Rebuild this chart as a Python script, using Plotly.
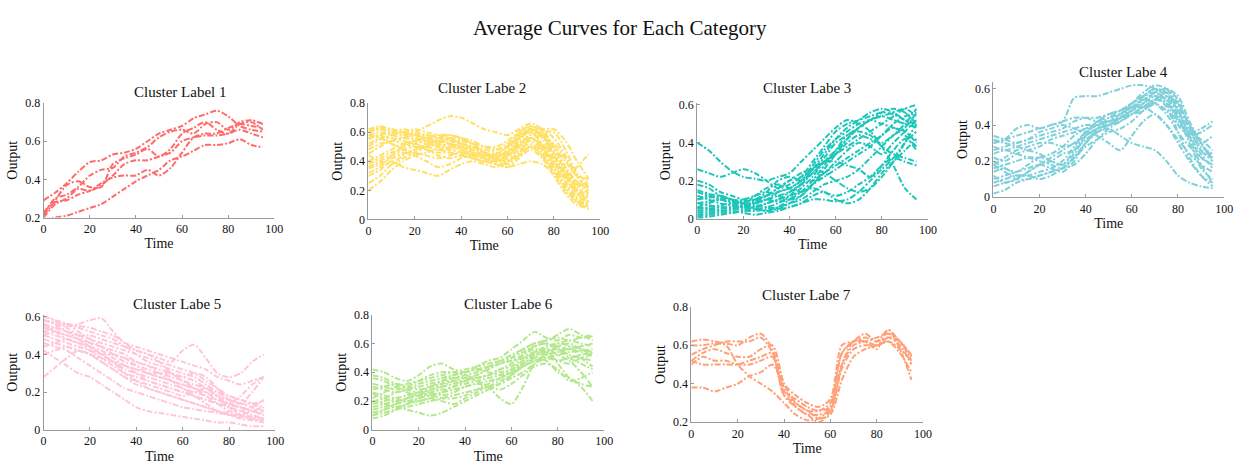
import plotly.graph_objects as go

W, H = 1248, 470
time = [0, 5, 10, 15, 20, 25, 30, 35, 40, 45, 50, 55, 60, 65, 70, 75, 80, 85, 90, 95]

cluster1 = [
    [0.29,0.33,0.38,0.44,0.49,0.50,0.53,0.54,0.56,0.60,0.64,0.66,0.68,0.72,0.74,0.76,0.73,0.68,0.66,0.65],
    [0.22,0.30,0.32,0.36,0.42,0.45,0.46,0.52,0.54,0.57,0.62,0.65,0.66,0.64,0.69,0.70,0.66,0.70,0.71,0.69],
    [0.20,0.27,0.30,0.35,0.34,0.37,0.42,0.48,0.50,0.50,0.52,0.54,0.60,0.62,0.63,0.63,0.64,0.66,0.64,0.62],
    [0.19,0.20,0.21,0.23,0.25,0.27,0.31,0.35,0.39,0.42,0.45,0.50,0.52,0.55,0.58,0.58,0.59,0.61,0.58,0.57],
    [0.23,0.28,0.29,0.32,0.34,0.38,0.41,0.42,0.42,0.45,0.42,0.46,0.54,0.62,0.64,0.64,0.67,0.69,0.68,0.67],
    [0.21,0.29,0.37,0.39,0.36,0.36,0.48,0.51,0.53,0.56,0.52,0.56,0.64,0.67,0.70,0.66,0.64,0.69,0.70,0.66],
]
cluster2 = [
    [0.60,0.62,0.60,0.58,0.60,0.64,0.68,0.71,0.70,0.66,0.62,0.60,0.58,0.62,0.66,0.62,0.50,0.40,0.30,0.28],
    [0.20,0.26,0.34,0.40,0.44,0.46,0.48,0.46,0.44,0.42,0.40,0.38,0.36,0.38,0.40,0.38,0.32,0.30,0.36,0.45],
    [0.58,0.60,0.58,0.56,0.55,0.54,0.53,0.55,0.52,0.50,0.46,0.45,0.50,0.60,0.64,0.60,0.50,0.36,0.24,0.18],
    [0.50,0.55,0.58,0.60,0.58,0.56,0.52,0.48,0.46,0.42,0.40,0.42,0.48,0.58,0.62,0.56,0.42,0.30,0.20,0.15],
    [0.35,0.38,0.42,0.45,0.48,0.50,0.52,0.50,0.48,0.45,0.44,0.45,0.50,0.56,0.60,0.52,0.40,0.28,0.18,0.12],
    [0.30,0.34,0.40,0.36,0.34,0.32,0.30,0.34,0.38,0.40,0.38,0.36,0.40,0.46,0.50,0.44,0.34,0.22,0.14,0.10],
    [0.62,0.62,0.60,0.58,0.56,0.55,0.56,0.58,0.56,0.54,0.50,0.48,0.52,0.58,0.62,0.58,0.46,0.34,0.22,0.16],
    [0.45,0.50,0.54,0.52,0.50,0.48,0.46,0.46,0.44,0.42,0.40,0.40,0.44,0.50,0.54,0.48,0.36,0.24,0.14,0.08],
    [0.55,0.58,0.52,0.50,0.52,0.54,0.50,0.48,0.50,0.48,0.46,0.44,0.46,0.52,0.58,0.60,0.60,0.48,0.32,0.25],
    [0.40,0.44,0.48,0.52,0.54,0.52,0.50,0.52,0.50,0.46,0.42,0.40,0.42,0.48,0.52,0.46,0.36,0.22,0.12,0.07],
    [0.25,0.30,0.38,0.44,0.48,0.52,0.54,0.52,0.48,0.44,0.42,0.40,0.46,0.54,0.62,0.58,0.48,0.36,0.26,0.20],
    [0.52,0.56,0.56,0.54,0.52,0.50,0.48,0.50,0.52,0.50,0.48,0.46,0.44,0.50,0.56,0.52,0.44,0.32,0.20,0.13],
    [0.48,0.52,0.54,0.56,0.58,0.58,0.56,0.54,0.52,0.50,0.46,0.42,0.44,0.52,0.58,0.56,0.52,0.42,0.30,0.22],
    [0.60,0.63,0.62,0.60,0.58,0.56,0.54,0.52,0.50,0.46,0.44,0.43,0.46,0.56,0.62,0.58,0.44,0.30,0.18,0.10],
    [0.38,0.42,0.46,0.48,0.50,0.48,0.44,0.42,0.44,0.46,0.44,0.40,0.38,0.44,0.50,0.44,0.32,0.20,0.12,0.09],
    [0.56,0.58,0.60,0.62,0.60,0.58,0.56,0.54,0.54,0.52,0.50,0.50,0.54,0.60,0.64,0.62,0.56,0.44,0.30,0.18],
    [0.62,0.64,0.62,0.60,0.62,0.60,0.58,0.56,0.55,0.52,0.50,0.48,0.50,0.56,0.60,0.62,0.62,0.54,0.40,0.28],
    [0.44,0.40,0.38,0.42,0.46,0.50,0.54,0.56,0.52,0.48,0.44,0.42,0.40,0.46,0.56,0.50,0.38,0.26,0.16,0.12],
    [0.32,0.36,0.44,0.50,0.54,0.56,0.58,0.58,0.56,0.52,0.46,0.42,0.40,0.44,0.50,0.48,0.40,0.30,0.24,0.22],
    [0.58,0.56,0.52,0.48,0.46,0.44,0.42,0.44,0.46,0.44,0.42,0.38,0.36,0.42,0.48,0.42,0.30,0.18,0.10,0.08],
    [0.36,0.40,0.44,0.46,0.44,0.40,0.36,0.38,0.42,0.44,0.42,0.40,0.44,0.52,0.56,0.50,0.40,0.32,0.26,0.24],
]
cluster3 = [
    [0.40,0.36,0.30,0.25,0.22,0.21,0.20,0.22,0.24,0.30,0.36,0.42,0.48,0.52,0.50,0.46,0.38,0.28,0.16,0.10],
    [0.26,0.24,0.22,0.24,0.26,0.24,0.20,0.16,0.18,0.22,0.30,0.38,0.46,0.50,0.52,0.54,0.56,0.55,0.52,0.50],
    [0.20,0.18,0.14,0.12,0.10,0.10,0.12,0.14,0.16,0.20,0.26,0.32,0.40,0.44,0.48,0.52,0.56,0.58,0.56,0.50],
    [0.10,0.12,0.11,0.10,0.09,0.10,0.12,0.16,0.20,0.22,0.26,0.30,0.34,0.38,0.42,0.46,0.50,0.54,0.58,0.60],
    [0.05,0.06,0.07,0.08,0.08,0.06,0.04,0.06,0.10,0.16,0.22,0.30,0.36,0.42,0.48,0.52,0.54,0.52,0.50,0.48],
    [0.02,0.03,0.04,0.04,0.03,0.02,0.03,0.04,0.06,0.08,0.12,0.14,0.10,0.08,0.10,0.16,0.24,0.30,0.36,0.42],
    [0.15,0.13,0.12,0.10,0.09,0.10,0.14,0.20,0.22,0.20,0.24,0.30,0.34,0.40,0.44,0.42,0.40,0.44,0.48,0.56],
    [0.08,0.09,0.10,0.08,0.07,0.08,0.10,0.12,0.14,0.18,0.24,0.30,0.30,0.28,0.26,0.22,0.28,0.36,0.42,0.38],
    [0.12,0.10,0.08,0.07,0.06,0.06,0.08,0.10,0.14,0.18,0.20,0.24,0.30,0.36,0.40,0.38,0.34,0.40,0.46,0.52],
    [0.04,0.05,0.06,0.05,0.05,0.06,0.08,0.10,0.12,0.14,0.16,0.14,0.12,0.14,0.18,0.22,0.28,0.32,0.30,0.28],
    [0.18,0.16,0.12,0.10,0.08,0.08,0.10,0.14,0.16,0.20,0.28,0.36,0.42,0.46,0.50,0.52,0.50,0.48,0.46,0.40],
    [0.06,0.08,0.10,0.09,0.08,0.12,0.16,0.18,0.16,0.14,0.18,0.22,0.26,0.30,0.34,0.38,0.44,0.50,0.54,0.56],
    [0.10,0.11,0.12,0.10,0.08,0.05,0.04,0.05,0.08,0.12,0.18,0.24,0.28,0.32,0.36,0.40,0.44,0.48,0.44,0.36],
    [0.03,0.04,0.05,0.06,0.06,0.07,0.06,0.05,0.06,0.08,0.10,0.10,0.09,0.10,0.14,0.20,0.26,0.32,0.40,0.46],
    [0.01,0.02,0.03,0.03,0.04,0.05,0.06,0.08,0.12,0.18,0.26,0.34,0.42,0.48,0.52,0.56,0.58,0.56,0.52,0.48],
    [0.08,0.07,0.06,0.06,0.07,0.09,0.12,0.16,0.20,0.24,0.26,0.24,0.20,0.16,0.14,0.16,0.22,0.30,0.40,0.50],
    [0.14,0.12,0.10,0.09,0.10,0.12,0.14,0.12,0.10,0.12,0.18,0.26,0.34,0.42,0.48,0.52,0.54,0.56,0.58,0.54],
    [0.06,0.05,0.04,0.05,0.07,0.09,0.10,0.09,0.10,0.14,0.20,0.28,0.36,0.44,0.46,0.44,0.38,0.34,0.32,0.30],
    [0.00,0.01,0.02,0.03,0.04,0.04,0.05,0.06,0.08,0.10,0.14,0.18,0.20,0.22,0.26,0.32,0.38,0.44,0.50,0.58],
]
cluster4 = [
    [0.30,0.32,0.38,0.40,0.38,0.40,0.42,0.55,0.56,0.56,0.58,0.60,0.62,0.62,0.60,0.52,0.40,0.34,0.36,0.40],
    [0.02,0.04,0.08,0.10,0.12,0.14,0.16,0.22,0.30,0.36,0.40,0.44,0.48,0.54,0.56,0.50,0.36,0.22,0.12,0.06],
    [0.20,0.16,0.14,0.18,0.22,0.20,0.18,0.26,0.34,0.38,0.40,0.42,0.46,0.50,0.54,0.56,0.48,0.34,0.22,0.18],
    [0.28,0.26,0.28,0.30,0.32,0.34,0.36,0.38,0.40,0.40,0.42,0.44,0.48,0.52,0.58,0.60,0.56,0.42,0.30,0.22],
    [0.10,0.12,0.14,0.16,0.18,0.16,0.14,0.20,0.30,0.36,0.38,0.34,0.30,0.28,0.26,0.20,0.12,0.08,0.06,0.05],
    [0.18,0.22,0.26,0.28,0.30,0.30,0.28,0.30,0.36,0.40,0.42,0.44,0.46,0.48,0.54,0.58,0.50,0.38,0.26,0.20],
    [0.22,0.20,0.24,0.26,0.28,0.32,0.34,0.36,0.38,0.40,0.42,0.46,0.50,0.50,0.46,0.40,0.32,0.24,0.18,0.14],
    [0.14,0.16,0.12,0.12,0.14,0.16,0.20,0.28,0.36,0.42,0.46,0.48,0.50,0.52,0.56,0.54,0.44,0.30,0.16,0.10],
    [0.26,0.28,0.30,0.32,0.36,0.38,0.40,0.38,0.36,0.34,0.30,0.26,0.34,0.42,0.46,0.40,0.30,0.20,0.12,0.08],
    [0.08,0.10,0.12,0.12,0.10,0.12,0.16,0.22,0.28,0.32,0.36,0.38,0.42,0.48,0.52,0.56,0.52,0.40,0.30,0.34],
    [0.32,0.30,0.28,0.26,0.24,0.20,0.18,0.24,0.34,0.42,0.44,0.46,0.50,0.54,0.58,0.60,0.54,0.38,0.26,0.22],
    [0.16,0.18,0.20,0.22,0.22,0.24,0.28,0.34,0.38,0.40,0.40,0.42,0.48,0.56,0.60,0.56,0.46,0.34,0.24,0.16],
    [0.12,0.08,0.10,0.14,0.18,0.20,0.24,0.26,0.32,0.36,0.40,0.44,0.48,0.50,0.52,0.48,0.40,0.36,0.32,0.26],
    [0.24,0.26,0.24,0.22,0.20,0.18,0.16,0.22,0.30,0.38,0.44,0.48,0.52,0.56,0.60,0.58,0.48,0.36,0.28,0.24],
    [0.30,0.32,0.34,0.36,0.38,0.40,0.42,0.44,0.44,0.42,0.42,0.46,0.52,0.58,0.62,0.60,0.52,0.40,0.30,0.20],
    [0.18,0.14,0.10,0.10,0.12,0.14,0.16,0.18,0.24,0.32,0.38,0.42,0.46,0.50,0.54,0.52,0.44,0.32,0.18,0.08],
    [0.06,0.08,0.10,0.14,0.18,0.22,0.26,0.30,0.34,0.38,0.40,0.44,0.50,0.54,0.52,0.46,0.36,0.28,0.22,0.18],
    [0.34,0.32,0.30,0.32,0.34,0.36,0.38,0.42,0.44,0.44,0.46,0.48,0.52,0.56,0.58,0.54,0.42,0.36,0.38,0.42],
]
cluster5 = [
    [0.58,0.56,0.55,0.56,0.58,0.59,0.52,0.46,0.42,0.40,0.38,0.36,0.42,0.45,0.38,0.30,0.28,0.30,0.36,0.40],
    [0.28,0.33,0.38,0.42,0.40,0.36,0.32,0.28,0.24,0.22,0.20,0.18,0.16,0.14,0.12,0.10,0.08,0.06,0.05,0.04],
    [0.42,0.38,0.34,0.30,0.28,0.24,0.20,0.16,0.12,0.10,0.09,0.08,0.07,0.06,0.05,0.04,0.04,0.03,0.02,0.02],
    [0.60,0.58,0.56,0.52,0.48,0.46,0.44,0.42,0.40,0.38,0.36,0.34,0.32,0.30,0.26,0.22,0.18,0.16,0.14,0.12],
    [0.52,0.50,0.48,0.46,0.44,0.42,0.38,0.34,0.30,0.26,0.24,0.22,0.20,0.18,0.16,0.14,0.12,0.10,0.08,0.06],
    [0.55,0.54,0.52,0.50,0.50,0.48,0.46,0.44,0.42,0.40,0.36,0.30,0.28,0.30,0.28,0.22,0.16,0.14,0.20,0.28],
    [0.48,0.46,0.44,0.42,0.40,0.36,0.32,0.28,0.26,0.24,0.22,0.20,0.18,0.20,0.22,0.18,0.12,0.08,0.06,0.05],
    [0.56,0.52,0.50,0.48,0.46,0.44,0.40,0.38,0.34,0.30,0.28,0.26,0.24,0.22,0.20,0.16,0.14,0.12,0.10,0.09],
    [0.50,0.52,0.50,0.48,0.44,0.40,0.36,0.32,0.30,0.28,0.26,0.24,0.22,0.18,0.14,0.10,0.08,0.07,0.06,0.05],
    [0.58,0.57,0.56,0.55,0.54,0.52,0.50,0.46,0.44,0.42,0.40,0.38,0.36,0.34,0.32,0.28,0.26,0.24,0.26,0.28],
    [0.46,0.44,0.42,0.38,0.34,0.30,0.26,0.22,0.20,0.18,0.16,0.14,0.12,0.11,0.10,0.09,0.08,0.08,0.10,0.12],
    [0.54,0.52,0.48,0.46,0.44,0.40,0.36,0.34,0.32,0.30,0.30,0.28,0.26,0.22,0.18,0.14,0.10,0.10,0.12,0.16],
    [0.60,0.58,0.54,0.50,0.46,0.44,0.42,0.40,0.36,0.34,0.32,0.30,0.26,0.24,0.22,0.20,0.18,0.16,0.14,0.10],
    [0.44,0.46,0.48,0.46,0.42,0.38,0.34,0.30,0.28,0.26,0.24,0.22,0.20,0.18,0.16,0.14,0.13,0.12,0.10,0.08],
    [0.56,0.54,0.52,0.50,0.48,0.44,0.40,0.36,0.34,0.32,0.30,0.30,0.28,0.26,0.22,0.18,0.14,0.12,0.10,0.08],
    [0.50,0.48,0.46,0.44,0.42,0.40,0.40,0.38,0.36,0.34,0.30,0.26,0.22,0.20,0.18,0.16,0.14,0.18,0.24,0.28],
    [0.58,0.56,0.52,0.48,0.44,0.40,0.36,0.30,0.26,0.22,0.20,0.18,0.16,0.14,0.12,0.10,0.09,0.08,0.07,0.06],
    [0.40,0.42,0.44,0.42,0.40,0.38,0.36,0.34,0.32,0.30,0.28,0.26,0.24,0.22,0.20,0.18,0.16,0.14,0.12,0.10],
    [0.52,0.54,0.56,0.54,0.52,0.50,0.48,0.44,0.40,0.36,0.34,0.32,0.30,0.28,0.24,0.20,0.16,0.14,0.14,0.15],
]
cluster6 = [
    [0.42,0.40,0.36,0.34,0.38,0.44,0.46,0.42,0.40,0.44,0.48,0.50,0.56,0.62,0.68,0.64,0.62,0.66,0.64,0.65],
    [0.10,0.12,0.14,0.16,0.18,0.20,0.22,0.24,0.26,0.28,0.30,0.34,0.38,0.44,0.50,0.54,0.56,0.52,0.50,0.48],
    [0.20,0.22,0.26,0.28,0.30,0.32,0.34,0.36,0.36,0.34,0.30,0.22,0.18,0.30,0.46,0.52,0.54,0.56,0.54,0.52],
    [0.30,0.28,0.26,0.28,0.32,0.34,0.36,0.38,0.40,0.42,0.44,0.46,0.50,0.56,0.60,0.62,0.66,0.70,0.66,0.62],
    [0.14,0.16,0.18,0.20,0.22,0.24,0.26,0.28,0.30,0.32,0.34,0.36,0.40,0.46,0.50,0.48,0.40,0.36,0.30,0.20],
    [0.25,0.22,0.20,0.22,0.26,0.30,0.32,0.34,0.34,0.36,0.38,0.40,0.42,0.48,0.54,0.56,0.52,0.48,0.40,0.30],
    [0.08,0.10,0.14,0.18,0.20,0.22,0.20,0.18,0.22,0.26,0.30,0.32,0.36,0.40,0.46,0.50,0.52,0.54,0.55,0.56],
    [0.36,0.34,0.30,0.26,0.24,0.26,0.30,0.34,0.36,0.38,0.42,0.46,0.48,0.50,0.52,0.54,0.58,0.60,0.56,0.54],
    [0.18,0.20,0.22,0.24,0.26,0.26,0.24,0.26,0.30,0.32,0.30,0.28,0.32,0.38,0.44,0.46,0.42,0.34,0.36,0.40],
    [0.22,0.26,0.30,0.32,0.34,0.36,0.38,0.40,0.42,0.44,0.46,0.48,0.50,0.54,0.58,0.60,0.58,0.56,0.58,0.60],
    [0.12,0.14,0.16,0.14,0.12,0.10,0.12,0.16,0.20,0.24,0.28,0.32,0.38,0.44,0.48,0.50,0.48,0.50,0.52,0.54],
    [0.28,0.30,0.32,0.30,0.28,0.30,0.34,0.38,0.40,0.42,0.40,0.38,0.40,0.46,0.52,0.56,0.60,0.58,0.50,0.44],
    [0.16,0.18,0.20,0.22,0.24,0.28,0.30,0.32,0.34,0.36,0.38,0.42,0.44,0.50,0.54,0.52,0.48,0.46,0.50,0.52],
    [0.20,0.18,0.16,0.18,0.22,0.26,0.28,0.30,0.32,0.34,0.36,0.38,0.42,0.48,0.54,0.58,0.60,0.62,0.60,0.58],
    [0.32,0.30,0.28,0.30,0.34,0.38,0.40,0.40,0.38,0.36,0.38,0.42,0.46,0.52,0.58,0.60,0.56,0.50,0.46,0.42],
    [0.10,0.14,0.18,0.22,0.24,0.24,0.22,0.22,0.24,0.28,0.32,0.36,0.40,0.44,0.48,0.52,0.54,0.58,0.56,0.52],
    [0.26,0.24,0.22,0.20,0.20,0.22,0.26,0.30,0.34,0.38,0.42,0.46,0.48,0.52,0.56,0.54,0.46,0.36,0.32,0.30],
    [0.38,0.36,0.32,0.28,0.26,0.28,0.32,0.36,0.38,0.40,0.44,0.48,0.52,0.56,0.60,0.62,0.64,0.62,0.64,0.66],
]
cluster7 = [
    [0.62,0.63,0.62,0.61,0.60,0.64,0.66,0.58,0.40,0.34,0.30,0.28,0.32,0.60,0.62,0.64,0.62,0.68,0.62,0.55],
    [0.52,0.50,0.50,0.50,0.50,0.52,0.54,0.56,0.34,0.30,0.26,0.26,0.30,0.56,0.62,0.66,0.62,0.64,0.60,0.50],
    [0.38,0.38,0.36,0.38,0.40,0.44,0.46,0.50,0.38,0.28,0.24,0.24,0.26,0.48,0.58,0.60,0.60,0.62,0.58,0.52],
    [0.60,0.60,0.61,0.60,0.50,0.44,0.40,0.36,0.30,0.24,0.21,0.22,0.28,0.56,0.62,0.62,0.60,0.62,0.56,0.46],
    [0.50,0.54,0.52,0.52,0.50,0.50,0.52,0.54,0.36,0.32,0.28,0.26,0.28,0.50,0.60,0.62,0.64,0.66,0.62,0.52],
    [0.55,0.58,0.60,0.62,0.62,0.62,0.64,0.56,0.34,0.28,0.24,0.20,0.26,0.50,0.62,0.62,0.58,0.68,0.58,0.42],
    [0.52,0.56,0.58,0.56,0.54,0.54,0.58,0.60,0.40,0.30,0.26,0.22,0.24,0.42,0.54,0.58,0.60,0.64,0.62,0.54],
]

titles = ["Cluster Label 1", "Cluster Labe 2", "Cluster Labe 3", "Cluster Labe 4",
          "Cluster Labe 5", "Cluster Labe 6", "Cluster Labe 7"]
colors = ["#FF6B6B", "#FFE066", "#1DC6BA", "#7FD0DA", "#FFC6DA", "#B5E88E", "#FFA078"]
all_data = [cluster1, cluster2, cluster3, cluster4, cluster5, cluster6, cluster7]

# layout in pixels: (x_left, x_right, y_top_pixel, y_bottom_pixel, yrange, yticks, title_x, title_y)
panels = [
    (41, 274, 99, 217, [0.2, 0.8], [0.2, 0.4, 0.6, 0.8], 179, 88),
    (369, 603, 99, 219, [0, 0.8], [0, 0.2, 0.4, 0.6, 0.8], 484, 83),
    (701, 934, 99, 218, [0, 0.61], [0, 0.2, 0.4, 0.6], 812, 84),
    (1000, 1233, 77, 196, [0, 0.64], [0, 0.2, 0.4, 0.6], 1131, 67),
    (41, 275, 317, 436, [0, 0.61], [0, 0.2, 0.4, 0.6], 176, 306),
    (373, 607, 317, 436, [0, 0.8], [0, 0.2, 0.4, 0.6, 0.8], 510, 306),
    (695, 929, 309, 428, [0.2, 0.8], [0.2, 0.4, 0.6, 0.8], 811, 297),
]

SERIF = "Liberation Serif, DejaVu Serif, serif"
fig = go.Figure()
layout = dict(
    width=W, height=H, margin=dict(l=0, r=0, t=0, b=0),
    paper_bgcolor="white", plot_bgcolor="white", showlegend=False,
    font=dict(family=SERIF, color="#111111"),
)
annotations = [dict(text="Average Curves for Each Category", x=623 / W, y=1 - 22 / H,
                    xref="paper", yref="paper", showarrow=False,
                    xanchor="center", yanchor="middle",
                    font=dict(family=SERIF, size=21, color="#111111"))]

for i, (data, col, ttl, p) in enumerate(zip(all_data, colors, titles, panels)):
    n = i + 1
    xl, xr, yt, yb, yr, yt_vals, tx, ty = p
    xa = "x" if n == 1 else f"x{n}"
    ya = "y" if n == 1 else f"y{n}"
    for curve in data:
        fig.add_trace(go.Scatter(
            x=time, y=curve, mode="lines", xaxis=xa, yaxis=ya,
            line=dict(color=col, width=2, dash="6px,2px,2px,2px", shape="spline", smoothing=0.8),
            hoverinfo="skip"))
    axis_common = dict(showline=True, linecolor="#9a9a9a", linewidth=1, showgrid=False,
                       zeroline=False, ticks="inside", ticklen=3, tickcolor="#9a9a9a",
                       tickfont=dict(family=SERIF, size=12, color="#111111"))
    layout[f"xaxis{'' if n == 1 else n}"] = dict(
        domain=[xl / W, xr / W], anchor=ya, range=[0, 100],
        tickvals=[0, 20, 40, 60, 80, 100],
        title=dict(text="Time", standoff=3, font=dict(family=SERIF, size=14, color="#111111")),
        **axis_common)
    layout[f"yaxis{'' if n == 1 else n}"] = dict(
        domain=[1 - yb / H, 1 - yt / H], anchor=xa, range=yr,
        tickvals=yt_vals, ticktext=[("0" if v == 0 else f"{v:.1f}") for v in yt_vals],
        title=dict(text="Output", standoff=4, font=dict(family=SERIF, size=14, color="#111111")),
        **axis_common)
    annotations.append(dict(text=ttl, x=tx / W, y=1 - ty / H, xref="paper", yref="paper",
                            xanchor="center", yanchor="middle",
                            showarrow=False, font=dict(family=SERIF, size=15, color="#111111")))

layout["annotations"] = annotations
fig.update_layout(**layout)
fig.write_html("out.html", config={"displayModeBar": False},
               post_script="document.body.style.margin='0';document.body.style.overflow='hidden';")
